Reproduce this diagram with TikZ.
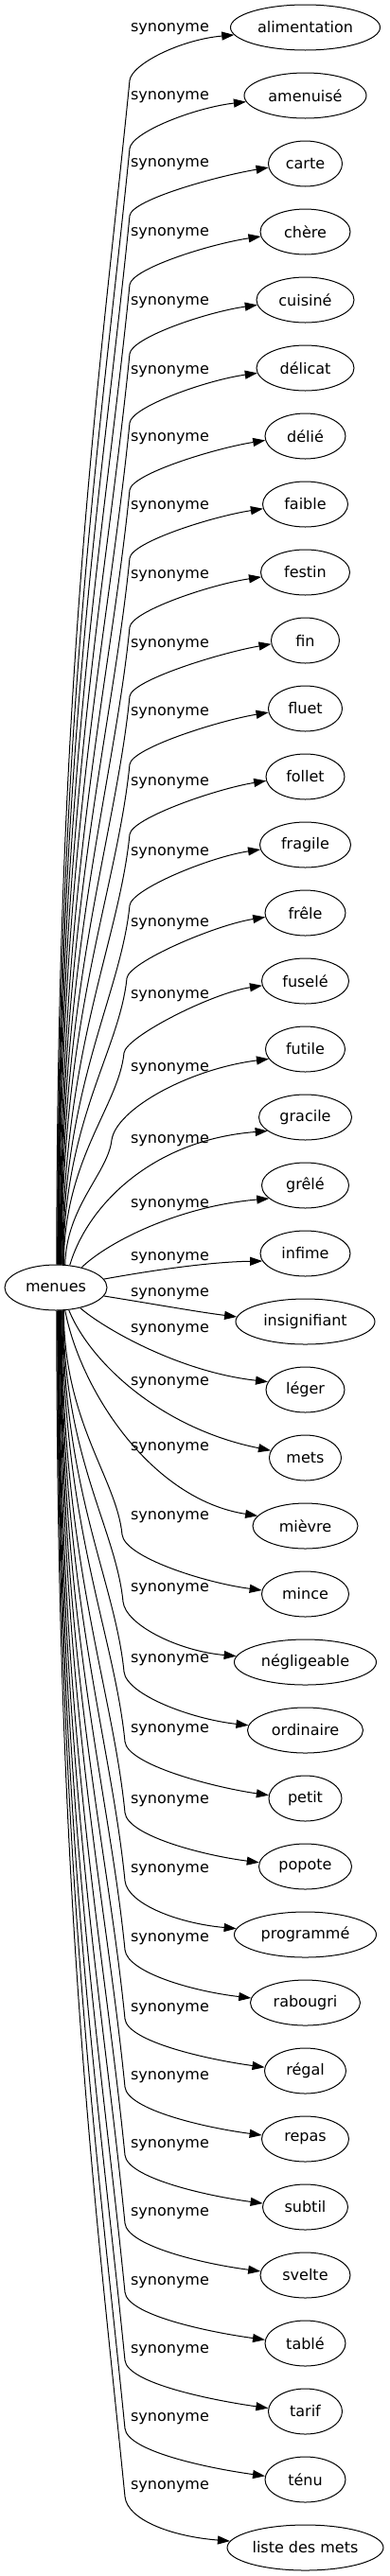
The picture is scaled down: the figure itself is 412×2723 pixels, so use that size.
\documentclass[tikz,border=0pt]{standalone}
\usepackage{fontspec}
\setmainfont{DejaVu Sans}
\usetikzlibrary{arrows.meta,calc,shapes.geometric}
\begin{document}
\begin{tikzpicture}[x=1pt,y=-1pt,
  every node/.style={font=\fontsize{16}{19}\selectfont},
  tn/.style={ellipse,draw,line width=1pt,minimum height=48pt,inner xsep=2pt,inner ysep=2pt},
  lbl/.style={inner sep=0pt},
  syn/.style={line width=1pt,-{Triangle[length=13pt,width=9pt]}}]
\fill[white] (0,0) rectangle (412,2723);
\useasboundingbox (0,0) rectangle (412,2723);
% source
\node[tn,minimum width=108pt] (m) at (59,1361) {menues};
% targets
\foreach \i/\w/\t in {0/158/alimentation,1/129/amenuisé,2/78/carte,3/95/chère,4/103/cuisiné,
  5/103/délicat,6/85/délié,7/90/faible,8/94/festin,9/72/fin,10/78/fluet,11/83/follet,
  12/96/fragile,13/85/frêle,14/92/fuselé,15/84/futile,16/98/gracile,17/92/grêlé,
  18/95/infime,19/147/insignifiant,20/83/léger,21/76/mets,22/111/mièvre,23/92/mince,
  24/150/négligeable,25/122/ordinaire,26/77/petit,27/98/popote,28/150/programmé,
  29/116/rabougri,30/86/régal,31/92/repas,32/90/subtil,33/95/svelte,34/85/tablé,
  35/78/tarif,36/85/ténu,37/165/liste des mets}
  {\node[tn,minimum width=\w pt] (t\i) at (322.5,{29+72*\i}) {\t};}
% labels
\foreach \i/\L in {0/31,1/103,2/174,3/247,4/320,5/393,6/464,7/536,8/609,9/682,
  10/754,11/828,12/902,13/977,14/1053,15/1130,16/1206,17/1274,18/1330,19/1368,
  20/1406,21/1462,22/1531,23/1604,24/1680,25/1755,26/1829,27/1904,28/1977,29/2050,
  30/2124,31/2196,32/2268,33/2340,34/2413,35/2485,36/2557,37/2629}
  {\node[lbl] (l\i) at (179.5,\L) {synonyme};}
% upper edges
\foreach \i/\L/\bx/\db in {0/31/137/54,1/103/137/54,2/174/137/54,3/247/137/54,4/320/137/54,
  5/393/137/54,6/464/137/54,7/536/137/54,8/609/137/54,9/682/137/54,10/754/137/54,
  11/828/137/54,12/902/137/55,13/977/134/57,14/1053/131/60}
{
  \pgfmathsetmacro\By{\L+\db}
  \pgfmathsetmacro\dy{1337-\By}
  \pgfmathsetmacro\an{88-1.2*\i}
  \draw[syn] (m.\an) .. controls ($(m.\an)+(0,{-0.5*\dy})$) and ({\bx-0.025*\dy},{\By+0.25*\dy})
    .. (\bx,\By) .. controls ({\bx+2},{\By-17}) and ($(t\i.west)+(-53,13)$) .. (t\i.186);
}
% middle edges
\draw[syn] (m.68) .. controls (70,1275) and (114,1240) .. (118,1205)
  .. controls (123,1172) and (200,1130) .. (t15.195);
\draw[syn] (m.58) .. controls (92,1275) and (160,1205) .. (t16.200);
\draw[syn] (m.38) .. controls (115,1312) and (190,1275) .. (t17.200);
\draw[syn] (m.10) .. controls (160,1343) and (220,1334) .. (t18.190);
\draw[syn] (m.-10) .. controls (160,1378) and (210,1387) .. (t19.176);
\draw[syn] (m.-40) .. controls (108,1403) and (188,1450) .. (t20.168);
\draw[syn] (m.-60) .. controls (95,1440) and (170,1510) .. (t21.168);
\draw[syn] (m.-68) .. controls (85,1470) and (160,1585) .. (t22.168);
% lower edges
\foreach \i/\L/\bx/\db in {23/1604/129/18,24/1680/130/13,25/1755/131/12,26/1829/132/12,
  27/1904/132/12,28/1977/132/11,29/2050/132/11,30/2124/132/10,31/2196/132/10,
  32/2268/132/10,33/2340/132/10,34/2413/132/10,35/2485/132/10,36/2557/132/10,37/2629/132/10}
{
  \pgfmathsetmacro\By{\L+\db}
  \pgfmathsetmacro\dy{\By-1385}
  \pgfmathsetmacro\an{-(88-1.2*(37-\i))}
  \draw[syn] (m.\an) .. controls ($(m.\an)+(0,{0.5*\dy})$) and ({\bx-0.025*\dy},{\By-0.25*\dy})
    .. (\bx,\By) .. controls ({\bx+2.4},{\By+24}) and ($(t\i.west)+(-60,-12)$) .. (t\i.175);
}
\end{tikzpicture}
\end{document}
